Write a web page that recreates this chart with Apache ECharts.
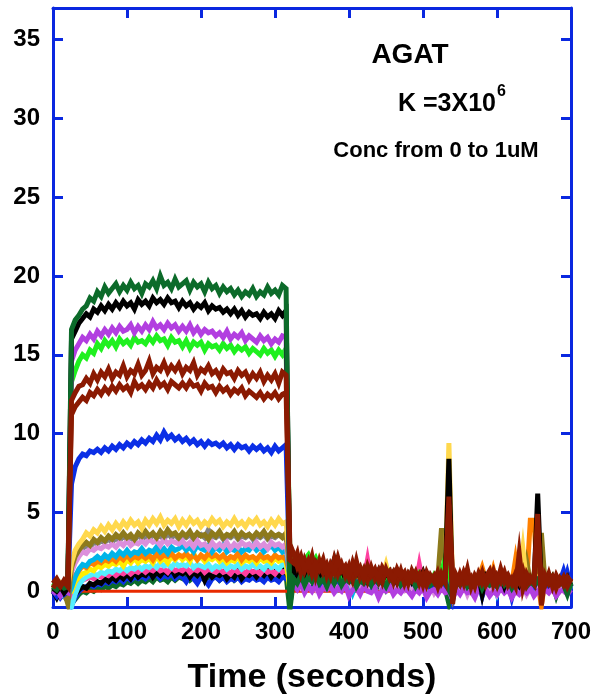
<!DOCTYPE html>
<html>
<head>
<meta charset="utf-8">
<script src="https://cdn.jsdelivr.net/npm/echarts@6/dist/echarts.min.js"></script>
<style>
  html, body { margin: 0; padding: 0; background: #fff; }
  #chart { width: 595px; height: 700px; }
</style>
</head>
<body>
<div id="chart"></div>
<script>
// sensorgram sampled every 5 s from 0 to 700 s
const STEP = 5;
const times = [];
for (let t = 0; t <= 700; t += STEP) times.push(t);

const xTicks = [0, 100, 200, 300, 400, 500, 600, 700];
const yTicks = [0, 5, 10, 15, 20, 25, 30, 35];

// rows: 0-20 | 25-70 | 75-120 | 125-170 | 175-220 | 225-270 | 275-315 | then 320-700 in rows of 11
const darkGreen = [
  0.3, 0.1, 0.4, 0.2, 0.3,
  16.6, 17.2, 17.5, 17.9, 18.1, 18.6, 18.4, 19.0, 18.7, 19.3,
  18.9, 19.2, 19.5, 19.0, 19.4, 19.1, 19.6, 19.2, 19.4, 18.9,
  19.5, 19.3, 19.7, 19.2, 20.0, 19.4, 19.6, 19.2, 19.8, 19.3,
  19.5, 19.7, 19.1, 19.6, 19.3, 19.5, 19.0, 19.6, 19.2, 19.4,
  18.9, 19.3, 19.0, 19.2, 18.8, 19.1, 18.7, 19.0, 18.8, 19.2,
  18.7, 19.0, 18.8, 19.3, 18.9, 19.1, 18.8, 19.4, 19.2,
  -0.9, 0.8, 0.5, 1.0, 0.4, 0.9, 0.6, 1.1, 0.5, 0.8, 0.3,
  0.9, 0.5, 1.0, 0.4, 0.8, 0.6, 0.9, 0.3, 0.7, 0.5, 0.8,
  0.4, 0.9, 0.5, 0.7, 0.3, 0.8, 0.6, 0.9, 0.4, 0.7, 0.5,
  0.8, 0.3, 0.7, 0.5, 0.9, 0.4, 0.6, 0.3, 0.8, 0.5, 0.1,
  -0.4, 0.7, 0.4, 0.8, 0.3, 0.6, 0.5, 0.8, 0.2, 0.7, 0.4,
  0.6, 0.3, 0.8, 0.4, 0.7, 0.2, 0.6, 0.5, 0.8, 0.3, 0.6,
  0.4, 0.7, 0.2, 0.6, 0.5, 0.8, 0.3, 0.6, 0.4, -0.2, 0.5
];
const black1 = [
  0.2, 0.0, 0.3, -0.1, 0.2,
  16.0, 16.5, 17.0, 17.3, 17.6, 17.4, 17.9, 17.7, 18.1, 17.8,
  18.2, 17.9, 18.3, 18.0, 18.4, 18.1, 18.3, 17.9, 18.5, 18.2,
  18.4, 18.1, 18.6, 18.3, 18.5, 18.2, 18.6, 18.3, 18.4, 18.0,
  18.4, 18.1, 18.3, 17.9, 18.2, 18.0, 18.3, 17.8, 18.1, 17.9,
  18.0, 17.7, 17.9, 17.6, 17.9, 17.5, 17.8, 17.4, 17.7, 17.5,
  17.6, 17.3, 17.7, 17.4, 17.6, 17.3, 17.8, 17.5, 17.8,
  0.6, 1.5, 1.0, 1.4, 0.8, 1.3, 0.9, 1.6, 0.7, 1.2, 0.9,
  1.3, 2.0, 1.0, 1.4, 0.8, 1.2, 0.7, 1.3, 0.9, 1.1, 0.6,
  1.2, 0.8, 1.3, 0.7, 1.1, 0.9, 1.2, 0.6, 1.0, 0.8, 1.1,
  0.6, 1.0, 0.7, 1.2, 0.5, 0.9, 0.8, 1.0, 0.6, 0.9, 8.4,
  -0.5, 0.9, 0.6, 1.0, 0.4, 0.8, 0.7, 1.0, -0.2, 0.9, 0.5,
  0.8, 0.6, 1.0, 0.3, 0.9, 0.5, 0.8, 0.4, 1.0, 0.6, 0.8,
  0.5, 6.2, 0.3, 0.8, 0.5, 0.9, 0.4, 0.8, 0.6, 0.9, 0.3
];
const purple = [
  -0.2, 0.1, -0.3, 0.0, -0.1,
  14.6, 15.3, 15.7, 16.1, 15.9, 16.3, 16.0, 16.5, 16.2, 16.6,
  16.3, 16.7, 16.4, 16.8, 16.5, 16.6, 16.9, 16.4, 16.8, 16.5,
  16.9, 16.6, 17.1, 16.7, 16.9, 16.6, 17.0, 16.7, 16.9, 16.5,
  16.8, 16.5, 16.9, 16.4, 16.7, 16.3, 16.6, 16.4, 16.5, 16.2,
  16.4, 16.1, 16.5, 16.0, 16.3, 16.1, 16.4, 15.9, 16.2, 16.0,
  15.8, 16.2, 15.9, 16.1, 15.7, 16.0, 15.8, 16.2, 16.1,
  1.0, 0.4, 0.1, 0.5, -0.1, 0.3, 0.0, 0.4, -0.2, 0.2, 0.1,
  0.3, -0.1, 0.2, 0.0, 0.4, -0.3, 0.1, 0.2, -0.2, 0.3, 0.0,
  -0.1, 0.2, -0.4, 0.1, 0.0, 0.3, -0.2, 0.1, -0.1, 0.2, 0.0,
  -0.3, 0.1, -0.1, 0.2, -0.4, 0.0, 0.1, -0.2, 0.2, -0.1, 0.0,
  -0.5, 0.1, -0.2, 0.2, -0.1, 0.0, -0.4, 0.2, -0.1, 0.1, -0.3,
  0.0, -0.2, 0.2, -0.1, 0.1, -0.4, 0.0, -0.2, 0.1, -0.1, 0.2,
  -0.3, 0.0, -0.2, 0.1, -0.1, 0.2, -0.3, 0.0, 0.1, -0.2, 0.1
];
const lime = [
  0.3, 0.6, 0.2, 0.5, 0.4,
  13.3, 14.0, 14.6, 15.0, 14.8, 15.3, 15.1, 15.7, 15.4, 15.9,
  15.6, 15.9, 15.5, 16.0, 15.7, 15.9, 15.6, 16.1, 15.8, 15.9,
  15.7, 16.1, 15.8, 16.2, 15.9, 16.0, 15.6, 16.1, 15.8, 15.9,
  15.5, 15.9, 15.4, 15.8, 15.6, 15.8, 15.3, 15.7, 15.5, 15.6,
  15.3, 15.7, 15.4, 15.6, 15.2, 15.5, 15.3, 15.5, 15.1, 15.4,
  15.2, 15.0, 15.4, 15.1, 15.3, 14.9, 15.3, 15.0, 15.4,
  2.5, 2.2, 1.9, 1.6, 2.0, 2.3, 1.7, 2.1, 1.5, 1.8, 1.3,
  1.6, 1.2, 1.5, 1.0, 1.4, 0.9, 1.3, 1.0, 1.2, 0.8, 1.1,
  0.9, 1.3, 0.7, 1.1, 0.8, 1.2, 0.6, 1.0, 0.8, 1.1, 0.7,
  1.0, 0.6, 1.1, 0.7, 0.9, 0.5, 1.0, 0.6, 1.2, 2.1, 1.0,
  0.2, 0.9, 0.6, 1.0, 0.5, 0.8, 0.6, 0.9, 0.4, 0.8, 0.6,
  0.9, 0.5, 1.0, 0.4, 0.8, 0.6, 0.9, 0.5, 0.8, 0.4, 0.9,
  1.0, 0.6, 0.4, 0.8, 0.5, 0.9, 0.3, 0.8, 0.5, 0.7, 0.4
];
const darkRed1 = [
  0.5, 0.8, 0.4, 0.6, 0.3,
  12.1, 12.6, 13.0, 13.1, 13.5, 13.2, 13.8, 13.4, 13.9, 13.6,
  14.1, 13.5, 13.9, 13.7, 14.3, 13.6, 14.0, 13.8, 14.4, 13.7,
  14.0, 14.6, 13.8, 14.2, 14.0, 14.5, 13.9, 14.3, 14.0, 14.4,
  13.8, 14.2, 14.0, 14.5, 13.7, 14.1, 13.9, 14.3, 13.8, 14.0,
  13.6, 14.1, 13.8, 13.9, 13.5, 14.0, 13.7, 13.9, 13.4, 13.8,
  13.5, 13.9, 13.3, 13.7, 13.4, 13.8, 13.2, 13.9, 13.7,
  3.0, 2.4, 1.6, 2.2, 1.3, 1.9, 1.1, 1.8, 1.4, 2.0, 1.0,
  1.7, 1.2, 2.1, 1.3, 1.6, 0.9, 1.8, 1.1, 1.5, 0.8, 1.6,
  1.0, 1.4, 0.7, 1.5, 1.1, 1.3, 0.6, 1.4, 0.9, 1.2, 0.5,
  1.3, 0.8, 1.1, 0.4, 1.2, 0.7, 1.0, 0.3, 1.1, 0.6, 6.0,
  -0.8, 1.0, 0.5, 1.2, 0.6, 0.9, 0.3, 1.1, 0.5, 0.9, 1.3,
  0.4, 1.0, 0.6, 1.2, 0.4, 0.8, 0.3, 2.4, 0.2, 1.1, 0.6,
  0.9, 4.9, -0.9, 1.0, 0.5, 0.9, 0.2, 0.8, 0.4, 0.9, 0.6
];
const darkRed2 = [
  0.2, 0.6, 0.3, 0.7, 0.4,
  11.2, 11.7, 12.0, 12.3, 12.1, 12.6, 12.4, 12.8, 12.5, 12.9,
  12.6, 13.0, 12.7, 13.1, 12.8, 13.0, 12.6, 13.3, 12.9, 13.1,
  12.8, 13.2, 12.9, 13.4, 13.0, 13.2, 12.8, 13.3, 13.1, 12.9,
  13.2, 12.9, 13.3, 13.0, 13.1, 12.7, 13.2, 12.9, 13.0, 12.6,
  13.0, 12.7, 12.9, 12.5, 12.8, 12.6, 12.9, 12.4, 12.7, 12.5,
  12.3, 12.6, 12.2, 12.5, 12.3, 12.6, 12.2, 12.5, 12.6,
  2.0, 1.8, 2.4, 1.2, 2.0, 1.4, 2.2, 1.0, 1.9, 1.2, 1.7,
  1.0, 2.0, 1.1, 1.7, 1.0, 1.6, 0.8, 1.9, 0.9, 1.4, 0.7,
  1.5, 0.8, 1.3, 0.6, 1.4, 0.8, 1.2, 0.6, 1.3, 0.5, 1.1,
  0.7, 1.2, 0.5, 1.1, 0.4, 1.0, 0.6, 1.2, 0.5, 0.9, 5.5,
  1.1, 0.4, 1.1, 0.5, 1.4, 0.3, 1.0, 0.6, 1.2, 0.4, 0.8,
  1.3, 0.5, 1.4, 0.6, 1.0, 0.5, 1.1, 0.6, 1.3, 0.4, 0.9,
  0.5, 4.0, 0.6, 0.4, 1.1, 0.3, 1.0, 0.5, 0.9, 0.3, 0.8
];
const blue1 = [
  0.0, -0.3, 0.1, -0.2, 0.0,
  6.8, 7.9, 8.4, 8.7, 8.6, 8.9, 8.8, 9.0, 8.8, 9.1,
  8.9, 9.2, 9.0, 9.3, 9.1, 9.4, 9.2, 9.5, 9.3, 9.6,
  9.4, 9.7, 9.5, 9.9, 9.6, 10.1, 9.7, 9.9, 9.6, 9.8,
  9.5, 9.7, 9.4, 9.6, 9.3, 9.5, 9.2, 9.5, 9.3, 9.4,
  9.2, 9.4, 9.1, 9.3, 9.0, 9.3, 9.1, 9.2, 8.9, 9.2,
  9.0, 9.2, 8.9, 9.1, 8.8, 9.2, 8.9, 9.1, 9.3,
  0.8, 1.1, 0.6, 1.0, 0.5, 0.9, 0.7, 1.0, 0.4, 0.8, 0.6,
  0.9, 0.5, 0.8, 0.3, 0.7, 0.6, 0.9, 0.4, 0.7, 0.5, 0.8,
  0.4, 0.7, 0.5, 0.8, 0.3, 0.7, 0.5, 0.8, 0.4, 0.6, 0.5,
  0.7, 0.3, 0.6, 0.4, 0.7, 0.2, 0.6, 0.5, 0.7, 0.3, 0.6,
  0.2, 0.6, 0.4, 0.7, 0.3, 0.6, 0.4, 0.7, -0.3, 0.6, 0.4,
  0.7, 0.3, 0.6, 0.5, 0.7, -0.2, 0.6, 0.3, 0.7, 0.4, 0.6,
  0.3, 0.7, 0.4, 0.6, 0.3, 0.7, 0.4, 0.6, 1.3, 0.5, 0.4
];
const gold = [
  0.4, 0.1, 0.5, 0.2, 0.3,
  1.8, 2.6, 3.0, 3.3, 3.7, 3.5, 3.9, 3.7, 4.1, 3.8,
  4.2, 3.9, 4.3, 4.0, 4.4, 4.1, 4.5, 4.2, 4.4, 4.0,
  4.5, 4.2, 4.6, 4.3, 4.7, 4.2, 4.5, 4.3, 4.6, 4.1,
  4.5, 4.2, 4.6, 4.3, 4.5, 4.1, 4.4, 4.2, 4.6, 4.3,
  4.5, 4.1, 4.4, 4.2, 4.6, 4.2, 4.4, 4.1, 4.5, 4.3,
  4.6, 4.2, 4.4, 4.1, 4.5, 4.2, 4.6, 4.3, 4.4,
  1.5, 1.3, 1.6, 1.2, 1.5, 1.1, 1.4, 1.0, 1.9, 1.1, 1.3,
  1.0, 1.4, 0.9, 1.2, 1.0, 1.3, 0.8, 1.2, 1.0, 1.1, 0.9,
  1.2, 0.8, 1.1, 0.9, 1.7, 0.8, 1.0, 1.2, 0.9, 1.1, 0.8,
  1.0, 0.7, 1.1, 0.8, 1.0, 0.7, 0.9, 0.8, 1.1, 0.9, 9.4,
  0.3, 1.0, 0.7, 1.1, 0.6, 0.9, 0.7, 1.0, 0.6, 0.9, 0.7,
  0.9, 0.6, 1.0, 0.7, 0.9, 0.5, 0.8, 0.7, 2.7, 0.6, 0.8,
  0.7, 0.9, 0.5, 0.8, 0.6, 0.9, 0.5, 0.8, 0.6, 0.9, 0.5
];
const olive = [
  0.1, -0.2, 0.3, 0.0, -0.8,
  1.5, 2.2, 2.6, 2.9, 3.1, 2.9, 3.3, 3.1, 3.4, 3.2,
  3.5, 3.3, 3.6, 3.4, 3.7, 3.4, 3.6, 3.3, 3.7, 3.5,
  3.8, 3.5, 3.7, 3.4, 3.8, 3.5, 3.9, 3.6, 3.7, 3.4,
  3.7, 3.5, 3.8, 3.4, 3.7, 3.5, 3.6, 3.3, 3.7, 3.5,
  3.8, 3.4, 3.6, 3.5, 3.8, 3.4, 3.7, 3.5, 3.6, 3.4,
  3.7, 3.5, 3.8, 3.4, 3.7, 3.5, 3.6, 3.4, 3.7,
  1.4, 1.1, 1.3, 0.9, 1.2, 1.0, 1.3, 0.8, 1.1, 0.9, 1.2,
  0.8, 1.1, 0.7, 1.0, 0.9, 1.1, 0.6, 1.0, 0.8, 1.0, 0.7,
  1.0, 0.7, 0.9, 0.6, 1.0, 0.8, 0.9, 0.6, 0.9, 0.7, 0.9,
  0.6, 0.9, 0.7, 0.8, 0.5, 0.9, 0.7, 0.8, 4.0, 1.3, 0.8,
  -0.3, 0.8, 0.6, 0.9, 0.5, 0.8, 0.6, 0.9, 0.5, 0.8, 0.6,
  0.8, 0.5, 0.9, 0.6, 0.8, 0.4, 0.7, 0.6, 0.8, 1.9, 0.7,
  0.6, 0.8, 3.7, 0.5, 0.7, 0.4, 0.8, 0.5, 0.7, 0.4, 0.6
];
const orchid = [
  0.0, 0.3, -0.1, 0.2, 0.1,
  1.2, 1.8, 2.2, 2.5, 2.4, 2.7, 2.6, 2.8, 2.7, 2.9,
  2.8, 3.0, 2.8, 3.1, 2.9, 3.2, 2.9, 3.1, 3.0, 3.2,
  3.0, 3.3, 3.1, 3.2, 2.9, 3.3, 3.0, 3.2, 3.1, 3.0,
  3.2, 2.9, 3.1, 2.8, 3.2, 2.9, 3.0, 2.7, 3.1, 2.8,
  3.0, 2.8, 3.1, 2.7, 3.0, 2.8, 3.1, 2.9, 3.0, 2.8,
  3.1, 2.8, 3.0, 2.7, 3.1, 2.9, 3.0, 2.8, 3.0,
  1.2, 0.5, 0.8, 0.3, 0.7, 0.4, 0.8, 0.2, 0.6, 0.4, 0.7,
  0.3, 0.6, 0.2, 0.5, 0.4, 0.7, 0.1, 0.5, 0.3, 0.6, 0.2,
  0.5, 0.3, 0.6, 0.1, 0.4, 0.3, 0.5, 0.2, 0.4, 0.1, 0.5,
  0.2, 0.4, 0.0, 0.5, 0.2, 0.4, -0.1, 0.3, 0.2, 0.4, 0.1,
  -0.5, 0.3, 0.1, 0.4, -0.2, 0.3, 0.1, 0.4, -0.3, 0.2, 0.1,
  0.3, -0.2, 0.3, 0.0, 0.4, -0.1, 0.2, 0.1, 0.3, -0.2, 0.2,
  0.0, 0.3, -0.4, 0.2, 0.0, 0.3, -0.2, 0.2, 0.0, 0.3, 0.1
];
const gray = [
  0.1, 0.2, 0.0, 0.3, 0.1,
  1.4, 2.0, 2.4, 2.7, 2.9, 2.8, 3.1, 3.0, 3.2, 3.1,
  3.3, 3.1, 3.4, 3.2, 3.5, 3.3, 3.4, 3.2, 3.6, 3.3,
  3.5, 3.3, 3.6, 3.4, 3.5, 3.3, 3.7, 3.4, 3.6, 3.3,
  3.5, 3.4, 3.6, 3.3, 3.5, 3.6, 3.4, 3.9, 3.5, 3.4,
  3.6, 3.3, 3.5, 3.4, 3.6, 3.3, 3.5, 3.4, 3.6, 3.3,
  3.5, 3.4, 3.6, 3.3, 3.5, 3.4, 3.6, 3.5, 3.4,
  1.3, 1.0, 1.2, 0.8, 1.1, 0.9, 1.2, 0.8, 1.0, 0.9, 1.1,
  0.8, 1.0, 0.7, 1.0, 0.8, 1.1, 0.6, 0.9, 0.8, 1.0, 0.7,
  0.9, 0.7, 1.0, 0.6, 0.9, 0.7, 0.9, 0.6, 0.8, 0.7, 0.9,
  0.6, 0.8, 0.6, 0.9, 0.5, 0.8, 0.7, 0.9, 0.6, 0.8, 0.7,
  0.5, 0.8, 0.6, 0.9, 0.5, 0.8, 0.6, 0.8, 0.5, 0.8, 0.6,
  0.8, 0.5, 0.9, 0.6, 0.8, 0.5, 0.7, 0.6, 0.8, 0.5, 0.7,
  0.6, 0.8, 0.5, 0.7, 0.6, 0.8, 0.5, 0.7, 1.2, 0.6, 0.5
];
const skyBlue = [
  -0.1, 0.2, 0.0, 0.1, -0.3,
  0.2, 0.9, 1.4, 1.7, 1.6, 1.9, 2.0, 2.2, 2.0, 2.3,
  2.1, 2.4, 2.2, 2.5, 2.3, 2.6, 2.3, 2.5, 2.4, 2.7,
  2.4, 2.6, 2.5, 2.8, 2.5, 2.7, 2.4, 2.8, 2.6, 2.7,
  2.9, 2.6, 2.8, 2.5, 2.9, 2.7, 2.6, 2.9, 2.5, 2.8,
  2.6, 2.9, 2.5, 2.7, 2.6, 2.8, 2.5, 2.7, 2.6, 2.9,
  2.6, 2.8, 2.5, 2.7, 2.9, 2.6, 2.8, 2.5, 2.7,
  0.9, 0.6, 0.9, 0.4, 0.8, 0.5, 0.7, 0.3, 0.8, 0.5, 0.7,
  0.4, 0.7, 0.2, 0.6, 0.4, 0.6, -0.1, 0.5, 0.3, 0.6, 0.2,
  0.5, 0.3, 0.6, 0.2, 0.5, 0.3, 0.6, 0.2, 0.5, 0.3, 0.5,
  0.2, 0.5, 0.3, 0.6, 0.1, 0.5, 0.3, 0.5, 0.2, 0.4, 0.3,
  0.1, 0.5, 0.2, 0.5, 0.1, 0.4, -0.1, 0.5, 0.2, 0.4, 0.1,
  0.5, -0.2, 0.4, 0.2, 0.5, 0.1, 0.4, 0.2, 0.5, 0.1, 0.4,
  0.2, 0.5, 0.1, 0.4, 0.2, 0.5, 0.0, 0.4, 0.2, 0.4, 0.1
];
const orange = [
  0.2, 0.0, 0.3, 0.1, 0.0,
  0.5, 1.0, 1.3, 1.6, 1.5, 1.8, 1.7, 1.9, 1.8, 2.0,
  1.9, 2.1, 1.9, 2.2, 2.0, 2.3, 2.0, 2.2, 2.1, 2.3,
  2.1, 2.3, 2.0, 2.4, 2.1, 2.3, 2.2, 2.4, 2.1, 2.3,
  2.2, 2.4, 2.1, 2.3, 2.0, 2.3, 2.1, 2.4, 2.2, 2.3,
  2.1, 2.3, 2.0, 2.2, 2.1, 2.4, 2.0, 2.3, 2.1, 2.2,
  2.0, 2.3, 2.1, 2.2, 2.0, 2.3, 2.1, 2.2, 2.0,
  1.1, 0.8, 1.0, 0.7, 1.0, 0.8, 1.1, 0.6, 0.9, 0.7, 1.0,
  0.7, 0.9, 0.6, 0.9, 0.7, 1.0, 0.5, 0.8, 0.7, 0.9, 0.6,
  0.8, 0.6, 0.9, 0.5, 0.8, 0.6, 0.9, 0.5, 0.8, 0.6, 0.8,
  0.5, 0.8, 0.6, 0.9, 0.5, 0.8, 0.6, 0.8, 1.3, 0.7, 0.8,
  0.4, 0.7, 0.5, 0.8, 0.4, 0.7, 0.5, 0.8, 1.5, 0.7, 0.5,
  1.4, 0.5, 0.8, 0.4, 0.7, 0.5, 2.0, 0.4, 0.7, 0.5, 4.5,
  4.5, 0.6, -0.9, 0.7, 0.4, 0.7, 0.3, 0.6, 0.4, 0.7, 0.3
];
const yellow = [
  0.0, 0.2, -0.1, 0.1, 0.0,
  0.0, 0.6, 0.9, 1.1, 1.2, 1.4, 1.3, 1.6, 1.5, 1.7,
  1.6, 1.8, 1.7, 1.9, 1.6, 2.0, 1.8, 2.1, 1.8, 2.0,
  1.9, 2.1, 1.8, 2.2, 1.9, 2.1, 1.8, 2.2, 2.0, 2.3,
  2.0, 2.2, 1.9, 2.4, 2.0, 2.2, 1.9, 2.1, 2.0, 2.2,
  1.9, 2.1, 1.8, 2.0, 1.9, 2.2, 1.8, 2.0, 1.9, 2.1,
  1.8, 2.1, 1.9, 2.0, 1.8, 2.1, 1.9, 2.0, 1.9,
  0.1, 0.9, 0.6, 0.9, 0.5, 0.8, 0.6, 0.9, 0.4, 0.8, 0.6,
  0.8, 0.5, 0.8, 0.4, 0.7, 0.5, 0.8, 0.3, 0.7, 0.5, 0.7,
  0.4, 0.7, 0.5, 0.8, 0.3, 0.7, 0.5, 0.7, 0.4, 0.6, 0.5,
  0.7, 0.3, 0.7, 0.5, 0.7, 0.3, 0.6, 0.4, 0.7, 0.5, 0.6,
  0.3, 0.6, 0.4, 0.7, 0.3, 0.6, 0.4, 0.7, 0.3, 0.6, 0.4,
  0.6, 0.3, 0.7, 0.4, 0.6, 0.3, 0.6, 0.4, 0.7, 0.3, 0.6,
  0.4, 0.6, 0.3, 0.6, 0.4, 0.7, 0.3, 0.6, 0.4, 0.6, 0.3
];
const cyan = [
  0.1, -0.2, 0.0, -0.3, -0.5,
  -1.0, -0.2, 0.4, 0.7, 0.9, 1.0, 1.1, 1.0, 1.2, 1.1,
  1.3, 1.2, 1.4, 1.3, 1.5, 1.3, 1.5, 1.4, 1.6, 1.4,
  1.6, 1.5, 1.7, 1.5, 1.8, 1.6, 1.7, 1.5, 1.8, 1.6,
  1.7, 1.6, 1.8, 1.5, 1.7, 1.6, 1.5, 1.7, 1.4, 1.6,
  1.5, 1.7, 1.4, 1.6, 1.5, 1.7, 1.4, 1.6, 1.5, 1.7,
  1.5, 1.6, 1.4, 1.7, 1.5, 1.6, 1.4, 1.7, 1.6,
  0.8, 0.5, 0.8, 0.4, 0.7, 0.5, 0.8, 0.3, 0.7, 0.5, 0.6,
  0.4, 0.7, 0.3, 0.6, 0.4, 0.7, 0.2, 0.6, 0.4, 0.6, 0.3,
  0.6, 0.4, 0.6, 0.3, 0.5, 0.4, 0.6, 0.3, 0.5, 0.4, 0.6,
  0.3, 0.5, 0.3, 0.6, 0.2, 0.5, 0.4, 0.6, 0.3, 0.5, 0.4,
  0.2, 0.5, 0.3, 0.6, 0.2, 0.5, 0.3, 0.6, 0.2, 0.5, 0.3,
  0.5, 0.2, 0.5, 0.3, 0.6, 0.2, 0.5, 0.3, 0.5, 0.2, 0.5,
  0.3, 0.5, 0.2, 0.5, 0.3, 0.6, 0.2, 0.5, 0.3, 0.5, 0.2
];
const pink = [
  0.0, 0.1, -0.1, 0.2, 0.0,
  -0.3, 0.2, 0.5, 0.7, 0.8, 0.9, 0.8, 1.0, 0.9, 1.1,
  1.0, 1.2, 1.0, 1.2, 1.1, 1.3, 1.1, 1.3, 1.2, 1.4,
  1.2, 1.4, 1.3, 1.5, 1.3, 1.4, 1.2, 1.5, 1.3, 1.4,
  1.3, 1.5, 1.2, 1.4, 1.3, 1.5, 1.2, 1.4, 1.3, 1.2,
  1.4, 1.2, 1.3, 1.1, 1.4, 1.2, 1.3, 1.1, 1.4, 1.2,
  1.3, 1.1, 1.4, 1.2, 1.3, 1.1, 1.4, 1.2, 1.3,
  0.9, 0.6, 0.9, 0.5, 0.8, 0.6, 0.9, 0.4, 0.8, 0.6, 0.8,
  0.5, 0.8, 0.4, 0.7, 0.5, 0.8, 0.4, 0.7, 0.5, 0.7, 2.0,
  0.6, 0.8, 0.5, 0.7, 0.4, 0.7, 0.5, 0.8, 0.4, 0.7, 0.5,
  0.7, 0.4, 1.7, 0.5, 0.7, 0.4, 0.7, 0.5, 0.7, 0.4, 0.6,
  0.3, 0.6, 0.4, 0.7, 0.3, 0.6, 0.4, 0.7, 0.3, 0.6, 0.4,
  0.6, 0.3, 0.7, 0.4, 0.6, 0.3, 0.6, 0.4, 0.6, 0.3, 0.6,
  0.4, 0.6, 0.3, 0.6, 0.4, 0.6, 0.3, 0.6, 0.4, 0.6, 0.3
];
const black2 = [
  0.0, -0.4, 0.1, -0.3, -0.6,
  -0.8, -0.2, 0.1, 0.3, 0.2, 0.5, 0.4, 0.6, 0.5, 0.8,
  0.6, 0.9, 0.7, 1.0, 0.8, 1.1, 0.8, 1.2, 0.9, 1.1,
  1.0, 1.3, 0.9, 1.2, 1.0, 1.3, 1.1, 1.4, 1.0, 1.2,
  1.1, 1.3, 0.9, 1.2, 1.0, 1.3, 0.7, 1.2, 0.9, 1.1,
  1.0, 1.2, 0.8, 1.1, 0.9, 1.3, 0.8, 1.1, 1.0, 1.2,
  0.9, 1.2, 1.0, 1.3, 0.9, 1.2, 1.0, 1.4, 1.2,
  0.7, 1.0, 0.6, 0.9, 0.5, 0.9, 0.6, 1.0, 0.4, 0.8, 0.6,
  0.9, 0.5, 0.8, 0.4, 0.8, 0.5, 0.9, 0.4, 0.7, 0.5, 0.8,
  0.4, 0.7, 0.5, 0.8, 0.3, 0.7, 0.5, 0.8, 0.4, 0.7, 0.4,
  0.7, 0.3, 0.7, 0.5, 0.8, 0.3, 0.6, 0.4, 0.7, 0.3, 0.6,
  0.2, 0.7, 0.4, 0.7, 0.2, 0.6, 0.4, 0.7, 0.3, 0.6, 0.4,
  0.7, 0.3, 0.6, 0.4, 0.7, 0.2, 0.6, 0.4, 0.7, 0.3, 0.6,
  0.4, 0.7, 0.3, 0.6, 0.4, 0.7, 0.3, 0.6, 0.4, 0.7, 0.3
];
const blue2 = [
  -0.2, 0.0, -0.4, -0.1, -0.3,
  -0.9, -0.4, 0.0, 0.2, 0.3, 0.4, 0.3, 0.5, 0.4, 0.6,
  0.5, 0.7, 0.6, 0.8, 0.6, 0.9, 0.7, 0.9, 0.8, 1.0,
  0.8, 1.0, 0.9, 1.1, 0.8, 1.0, 0.9, 1.1, 0.8, 1.0,
  0.9, 0.6, 1.0, 0.8, 0.5, 0.9, 0.7, 0.4, 0.8, 0.9,
  0.7, 0.9, 0.6, 0.8, 0.7, 0.9, 0.6, 0.8, 0.7, 0.9,
  0.7, 0.8, 0.6, 0.9, 0.7, 0.8, 0.6, 0.9, 0.8,
  0.6, 0.9, 0.5, 0.8, 0.4, 0.8, 0.5, 0.9, 0.4, 0.7, 0.5,
  0.8, 0.4, 0.7, 0.3, 0.7, 0.5, 0.8, 0.3, 0.6, 0.4, 0.7,
  0.3, 0.6, 0.4, 0.7, 0.3, 0.6, 0.4, 0.7, 0.3, 0.6, 0.4,
  0.6, 0.3, 0.6, 0.4, 0.7, 0.3, 0.6, 0.4, 0.6, 0.3, 0.5,
  -0.6, 0.6, 0.3, 0.6, 0.3, 0.5, 0.4, 0.6, 0.3, 0.5, 0.3,
  0.6, 0.3, 0.5, 0.4, 0.6, -0.4, 0.5, 0.3, 0.6, 0.3, 0.5,
  0.3, 0.6, 0.3, 0.5, 0.3, 0.6, 0.3, 0.5, 0.4, 1.2, 0.3
];
const darkGreen2 = [
  0.3, 0.0, 0.2, -0.1, 0.1,
  -0.8, -0.5, -0.2, 0.0, -0.1, 0.1, 0.0, 0.2, 0.1, 0.3,
  0.2, 0.4, 0.3, 0.5, 0.4, 0.6, 0.5, 0.7, 0.5, 0.7,
  0.6, 0.8, 0.6, 0.9, 0.7, 0.8, 0.6, 0.9, 0.7, 0.9,
  0.8, 1.0, 0.7, 0.9, 0.8, 1.0, 0.7, 0.9, 0.8, 1.0,
  0.7, 0.9, 0.8, 1.0, 0.7, 0.9, 0.8, 1.0, 0.8, 0.9,
  0.8, 1.0, 0.9, 1.1, 0.8, 1.0, 0.9, 1.1, 1.0,
  -1.2, 0.7, 0.4, 0.8, 0.3, 0.7, 0.5, 0.9, 0.3, 0.6, 0.4,
  0.7, 0.3, 0.6, 0.2, 0.6, 0.4, 0.7, 0.2, 0.5, 0.3, 0.6,
  0.2, 0.5, 0.3, 0.6, 0.1, 0.5, 0.3, 0.6, 0.2, 0.4, 0.3,
  0.5, 0.2, 0.5, 0.3, 0.6, 0.1, 0.4, 0.3, 0.5, 0.2, -0.8,
  0.1, 0.5, 0.3, 0.6, 0.1, 0.4, 0.2, 0.5, 0.1, 0.4, 0.2,
  0.5, 0.1, 0.4, 0.2, 0.5, 0.0, 0.4, 0.2, 0.5, 0.1, 0.4,
  0.2, 0.5, 0.1, 0.4, 0.2, 0.5, -0.3, 0.4, 0.2, 0.4, 0.1
];
const redBlank = [
  0, 0, 0, 0, 0,
  0, 0, 0, 0, 0, 0, 0, 0, 0, 0,
  0, 0, 0, 0, 0, 0, 0, 0, 0, 0,
  0, 0, 0, 0, 0, 0, 0, 0, 0, 0,
  0, 0, 0, 0, 0, 0, 0, 0, 0, 0,
  0, 0, 0, 0, 0, 0, 0, 0, 0, 0,
  0, 0, 0, 0, 0, 0, 0, 0, 0,
  0, 0, 0, 0, 0, 0, 0, 0, 0, 0, 0,
  0, 0, 0, 0, 0, 0, 0, 0, 0, 0, 0,
  0, 0, 0, 0, 0, 0, 0, 0, 0, 0, 0,
  0, 0, 0, 0, 0, 0, 0, 0, 0, 0, 0,
  0, 0, 0, 0, 0, 0, 0, 0, 0, 0, 0,
  0, 0, 0, 0, 0, 0, 0, 0, 0, 0, 0,
  0, 0, 0, 0, 0, 0, 0, 0, 0, 0, 0
];

// drawing order: first is at the bottom
const traces = [
  darkGreen2, redBlank, blue2, black2, pink, cyan, yellow, orange, skyBlue, gray,
  orchid, olive, gold, blue1, lime, purple, black1, darkGreen, darkRed2, darkRed1
];
const traceColors = [
  '#0c6b2a', '#e82a00', '#0b2fe6', '#000000', '#ff3fa0', '#55eeff', '#ffee00', '#ff8000', '#00b4e8', '#808080',
  '#dc8fdc', '#8d7a1c', '#ffd84d', '#0b2fe6', '#1ff01f', '#b23fe0', '#000000', '#0c6b2a', '#8b1a02', '#8b1a02'
];

traces.forEach(function (arr, i) {
  if (arr.length !== times.length) throw new Error('trace ' + i + ' has ' + arr.length + ' points');
});

const BLUE = '#0a28e0';
const FONT = 'Liberation Sans, Arial, sans-serif';

const axisLineStyle = { show: true, onZero: false, lineStyle: { color: BLUE, width: 3 } };
const tickStyle = { show: true, inside: true, length: 10, lineStyle: { color: BLUE, width: 3 } };
const labelStyle = { color: '#000', fontSize: 24, fontWeight: 'bold', fontFamily: FONT };

const chart = echarts.init(document.getElementById('chart'));
chart.setOption({
  animation: false,
  backgroundColor: '#fff',
  grid: { left: 53, right: 24, top: 8, bottom: 89 },
  xAxis: [{
    type: 'value', min: 0, max: 700, interval: 100, position: 'bottom',
    axisLine: axisLineStyle, axisTick: tickStyle,
    axisLabel: Object.assign({ margin: 13, showMinLabel: true, showMaxLabel: true, customValues: xTicks }, labelStyle),
    splitLine: { show: false },
    name: 'Time (seconds)', nameLocation: 'middle', nameGap: 54,
    nameTextStyle: { color: '#000', fontSize: 34, fontWeight: 'bold', fontFamily: FONT }
  }, {
    type: 'value', min: 0, max: 700, interval: 100, position: 'top',
    axisLine: axisLineStyle, axisTick: tickStyle,
    axisLabel: { show: false }, splitLine: { show: false }
  }],
  yAxis: [{
    type: 'value', min: -1, max: 37, position: 'left',
    axisLine: axisLineStyle,
    axisTick: Object.assign({ customValues: yTicks }, tickStyle),
    axisLabel: Object.assign({ margin: 13, customValues: yTicks }, labelStyle),
    splitLine: { show: false }
  }, {
    type: 'value', min: -1, max: 37, position: 'right',
    axisLine: axisLineStyle,
    axisTick: Object.assign({ customValues: yTicks }, tickStyle),
    axisLabel: { show: false }, splitLine: { show: false }
  }],
  graphic: [
    { type: 'text', x: 410, y: 55, style: { text: 'AGAT', font: 'bold 28px ' + FONT, fill: '#000', textAlign: 'center', textVerticalAlign: 'middle' } },
    { type: 'text', x: 496, y: 104, style: { text: 'K =3X10', font: 'bold 25px ' + FONT, fill: '#000', textAlign: 'right', textVerticalAlign: 'middle' } },
    { type: 'text', x: 497, y: 92, style: { text: '6', font: 'bold 16px ' + FONT, fill: '#000', textAlign: 'left', textVerticalAlign: 'middle' } },
    { type: 'text', x: 436, y: 151, style: { text: 'Conc from 0 to 1uM', font: 'bold 22px ' + FONT, fill: '#000', textAlign: 'center', textVerticalAlign: 'middle' } }
  ],
  series: traces.map(function (arr, i) {
    return {
      type: 'line',
      xAxisIndex: 0,
      yAxisIndex: 0,
      data: times.map(function (t, k) { return [t, arr[k]]; }),
      showSymbol: false,
      silent: true,
      clip: true,
      lineStyle: { color: traceColors[i], width: arr === redBlank ? 3 : 5, join: 'miter' },
      itemStyle: { color: traceColors[i] }
    };
  })
});
</script>
</body>
</html>
